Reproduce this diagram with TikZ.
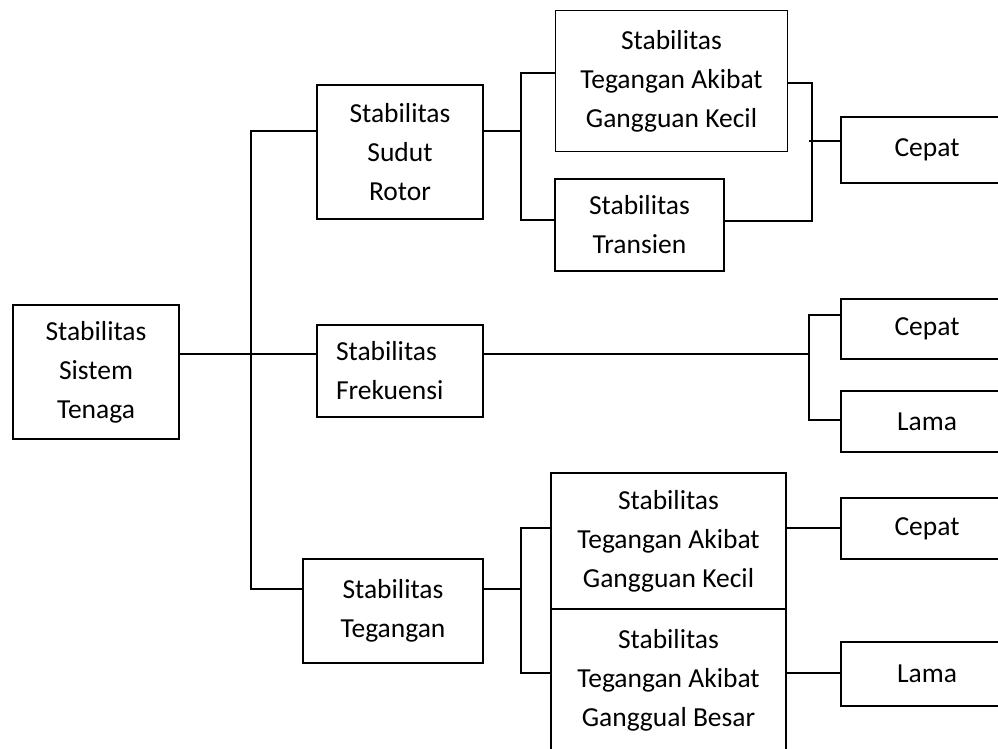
\documentclass[tikz,border=0pt]{standalone}
\usepackage{fontspec}
\setmainfont{Carlito}
\usetikzlibrary{calc}
\tikzset{box/.style={draw, line width=1.3pt, inner sep=0pt, outer sep=0pt, align=center, font=\fontsize{27.5}{39}\selectfont}}
\tikzset{link/.style={line width=1.3pt}}
\tikzset{leaf/.style={box, minimum width=172pt}}

\begin{document}
\begin{tikzpicture}[x=1pt, y=-1pt, line cap=rect]

	\useasboundingbox (0,0) rectangle (998,749);
	\clip (0,0) rectangle (998,749);

	% Root
	\node[box, minimum width=166pt, minimum height=134pt] (A) at (96,372) {Stabilitas\\Sistem\\Tenaga};

	% Second Level
	\node[box, minimum width=166pt, minimum height=134pt] (B1) at (400,152) {Stabilitas\\Sudut\\Rotor};
	\node[box, minimum width=166pt, minimum height=92pt, text width=128pt, align=left] (B2) at (400,371) {Stabilitas\\Frekuensi};
	\node[box, minimum width=180pt, minimum height=104pt] (B3) at (393,611) {Stabilitas\\Tegangan};

	% Third Level
	\node[box, minimum width=232pt, minimum height=141pt] (C1) at (671.5,81) {Stabilitas\\Tegangan Akibat\\Gangguan Kecil};
	\node[box, minimum width=169pt, minimum height=92pt] (C2) at (639.5,225) {Stabilitas\\Transien};
	\node[box, minimum width=235pt, minimum height=136pt] (C3) at (668.5,541) {Stabilitas\\Tegangan Akibat\\Gangguan Kecil};
	\node[box, minimum width=235pt, minimum height=142pt] (C4) at (668.5,680) {Stabilitas\\Tegangan Akibat\\Ganggual Besar};

	% Leaves
	\node[leaf, minimum height=66pt] (D1) at (927,150) {Cepat};
	\node[leaf, minimum height=60pt] (D2) at (927,329) {Cepat};
	\node[leaf, minimum height=61pt] (D3) at (927,421.5) {Lama};
	\node[leaf, minimum height=61pt] (D4) at (927,528.5) {Cepat};
	\node[leaf, minimum height=64pt] (D5) at (927,674) {Lama};

	% Junctions
	\coordinate (tr1) at (251,131);
	\coordinate (tr2) at (251,354);
	\coordinate (tr3) at (251,589);
	\coordinate (ra) at (521,73);
	\coordinate (rb) at (521,220);
	\coordinate (ca) at (812,83);
	\coordinate (cb) at (812,221);
	\coordinate (cc) at (810,141);
	\coordinate (fa) at (809,315);
	\coordinate (fb) at (809,420);
	\coordinate (ta) at (521,528);
	\coordinate (tb) at (521,673);

	% Root Branches
	\draw[link] (A.east |- tr2) -- (B2.west |- tr2);
	\draw[link] (B1.west |- tr1) -- (tr1) -- (tr3) -- (B3.west |- tr3);

	% Sudut Rotor
	\draw[link] (B1.east |- tr1) -- (tr1 -| ra);
	\draw[link] (C1.west |- ra) -- (ra) -- (rb) -- (C2.west |- rb);
	\draw[link] (C1.east |- ca) -- (ca) -- (cb) -- (C2.east |- cb);
	\draw[link] (cc) -- (D1.west |- cc);

	% Frekuensi
	\draw[link] (B2.east |- tr2) -- (tr2 -| fa);
	\draw[link] (D2.west |- fa) -- (fa) -- (fb) -- (D3.west |- fb);

	% Tegangan
	\draw[link] (B3.east |- tr3) -- (tr3 -| ta);
	\draw[link] (C3.west |- ta) -- (ta) -- (tb) -- (C4.west |- tb);
	\draw[link] (C3.east |- ta) -- (D4.west |- ta);
	\draw[link] (C4.east |- tb) -- (D5.west |- tb);
\end{tikzpicture}
\end{document}
